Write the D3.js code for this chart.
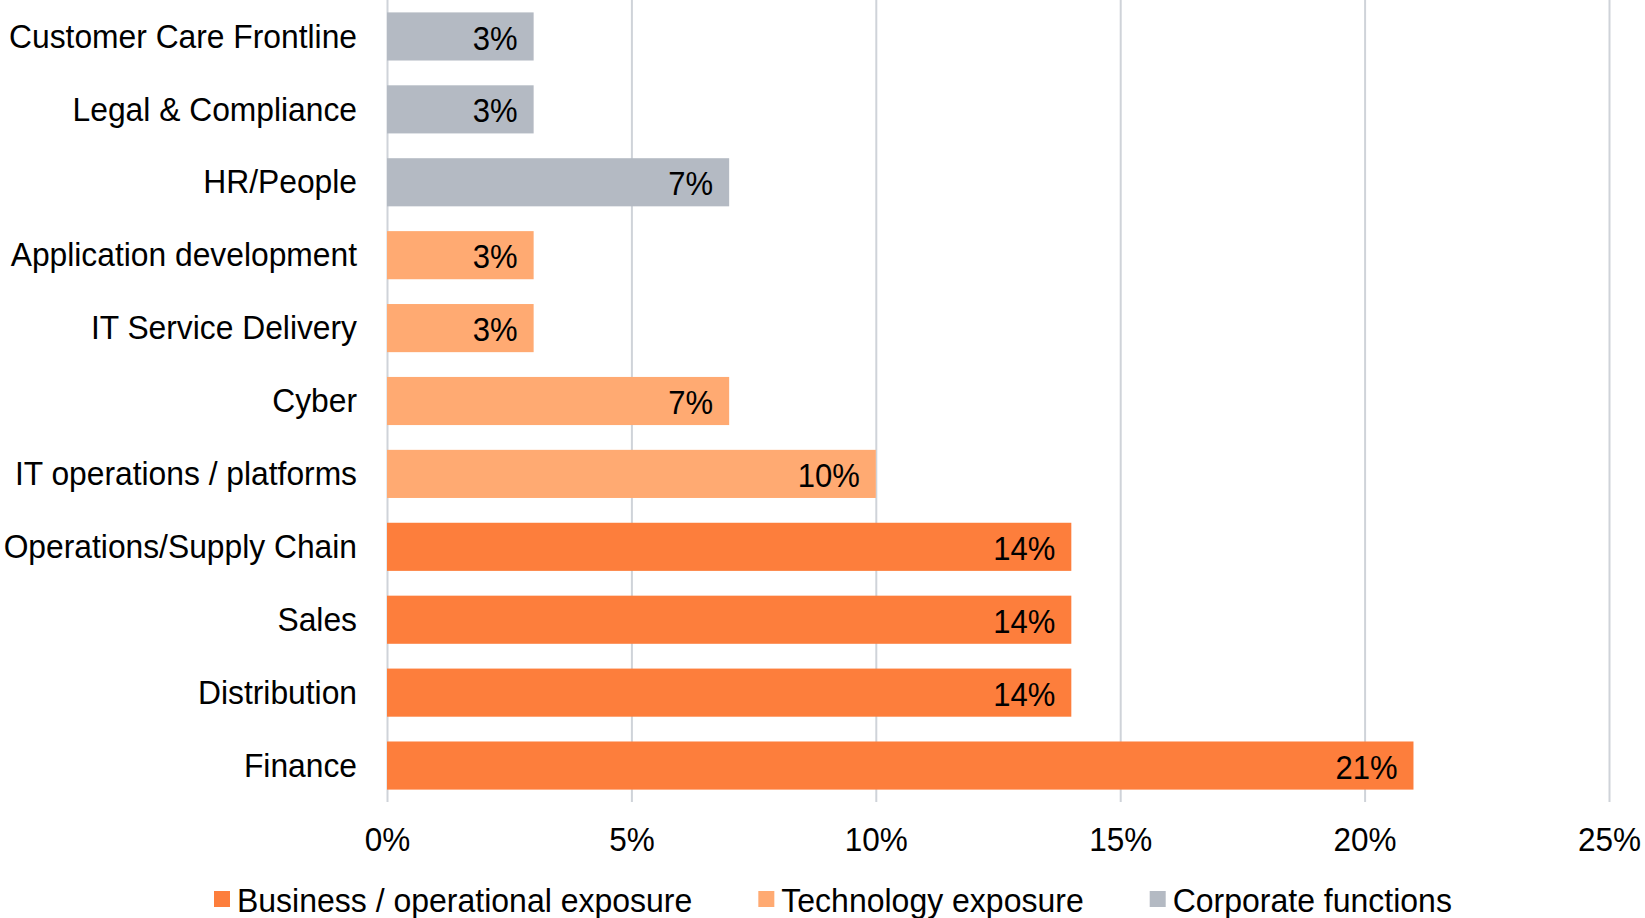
<!DOCTYPE html>
<html>
<head>
<meta charset="utf-8">
<script src="https://cdn.jsdelivr.net/npm/d3@7"></script>
<style>
  html, body { margin: 0; padding: 0; background: #fff; }
  svg { display: block; font-family: "Liberation Sans", Arial, sans-serif; }
  /* slightly taller glyphs, scaled about each label's own centre */
  svg text { transform-box: fill-box; transform-origin: center; transform: scaleY(1.06); }
</style>
</head>
<body>
<svg id="chart" width="1645" height="918"></svg>
<script>
// Functions, top to bottom
const categories = [
  "Customer Care Frontline", "Legal & Compliance", "HR/People",
  "Application development", "IT Service Delivery", "Cyber",
  "IT operations / platforms", "Operations/Supply Chain", "Sales",
  "Distribution", "Finance"
];
// Share of respondents (%)
const values = [3, 3, 7, 3, 3, 7, 10, 14, 14, 14, 21];
// Exposure group for each function
const groups = [
  "Corporate functions", "Corporate functions", "Corporate functions",
  "Technology exposure", "Technology exposure", "Technology exposure", "Technology exposure",
  "Business / operational exposure", "Business / operational exposure",
  "Business / operational exposure", "Business / operational exposure"
];
const legendItems = ["Business / operational exposure", "Technology exposure", "Corporate functions"];
const groupColors = ["#FD7E3C", "#FFAA72", "#B4BAC3"];
const xTicks = [0, 5, 10, 15, 20, 25];

const svg = d3.select("#chart");
const margin = { left: 387, top: 0, right: 36, bottom: 116 };
const W = 1645, H = 918;
const plotW = W - margin.left - margin.right;
const plotH = H - margin.top - margin.bottom;

const x = d3.scaleLinear().domain([0, 25]).range([0, plotW]);
const y = d3.scaleBand().domain(categories).range([0, plotH])
  .paddingInner(0.34).paddingOuter(0.17);
const color = d3.scaleOrdinal().domain(legendItems).range(groupColors);

const g = svg.append("g").attr("transform", `translate(${margin.left},${margin.top})`);

// Vertical gridlines
const grid = g.append("g")
  .call(d3.axisBottom(x).tickValues(xTicks).tickSize(plotH).tickFormat(""));
grid.select(".domain").remove();
grid.selectAll(".tick line").attr("stroke", "#CFD3D9").attr("stroke-width", 2);

// Bars
g.selectAll("rect.bar")
  .data(categories)
  .join("rect")
  .attr("class", "bar")
  .attr("x", x(0))
  .attr("y", d => y(d))
  .attr("width", (d, i) => x(values[i]) - x(0))
  .attr("height", y.bandwidth())
  .attr("fill", (d, i) => color(groups[i]));

// Value labels inside bar ends
g.selectAll("text.val")
  .data(categories)
  .join("text")
  .attr("class", "val")
  .attr("x", (d, i) => x(values[i]) - 16)
  .attr("y", d => y(d) + y.bandwidth() / 2 + 12.5)
  .attr("text-anchor", "end")
  .attr("font-size", 31)
  .attr("fill", "#000")
  .text((d, i) => values[i] + "%");

// Category axis
const yAxis = g.append("g")
  .call(d3.axisLeft(y).tickSize(0).tickPadding(30));
yAxis.select(".domain").remove();
yAxis.selectAll("text")
  .attr("font-size", 31.8)
  .attr("font-family", "Liberation Sans, Arial, sans-serif")
  .attr("fill", "#000")
  .attr("dy", "0.33em");

// Percentage axis
const xAxis = g.append("g")
  .attr("transform", `translate(0,${plotH})`)
  .call(d3.axisBottom(x).tickValues(xTicks).tickSize(0).tickPadding(26).tickFormat(d => d + "%"));
xAxis.select(".domain").remove();
xAxis.selectAll("text")
  .attr("font-size", 31.5)
  .attr("font-family", "Liberation Sans, Arial, sans-serif")
  .attr("fill", "#000");

// Legend
const legend = svg.append("g").attr("transform", "translate(214,900)");
let lx = 0;
legendItems.forEach((name, i) => {
  const item = legend.append("g").attr("transform", `translate(${lx},0)`);
  item.append("rect")
    .attr("x", 0).attr("y", -9)
    .attr("width", 16).attr("height", 16)
    .attr("fill", color(name));
  const t = item.append("text")
    .attr("x", 23).attr("y", 11)
    .attr("font-size", 32)
    .attr("fill", "#000")
    .text(name);
  lx += 23 + t.node().getComputedTextLength() + 66;
});
</script>
</body>
</html>
